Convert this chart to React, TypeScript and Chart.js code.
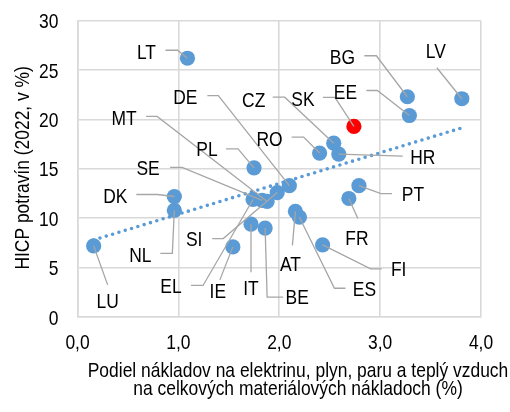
import { useEffect, useRef } from "react";
import { Chart, registerables } from "chart.js";

Chart.register(...registerables);

// ---- data ----
const countries = ["LT", "PL", "BG", "LV", "EE", "SK", "RO", "CZ", "HR", "DE", "SI", "MT", "SE", "EL", "IT", "BE", "AT", "ES", "DK", "NL", "LU", "IE", "PT", "FR", "FI"];
const energyShare = [1.09, 1.75, 3.27, 3.81, 3.29, 2.74, 2.4, 2.54, 2.59, 2.1, 1.98, 1.88, 1.83, 1.74, 1.72, 1.86, 2.16, 2.2, 0.96, 0.96, 0.16, 1.54, 2.79, 2.69, 2.43];
const foodHicp = [26.2, 15.1, 22.3, 22.1, 20.4, 19.3, 16.6, 17.6, 16.5, 13.3, 12.6, 11.7, 11.8, 11.9, 9.4, 9.0, 10.7, 10.1, 12.2, 10.8, 7.2, 7.1, 13.3, 12.0, 7.3];
const highlighted = ["SK"];
const trendX = [0.16, 3.81];
const trendY = [7.8, 19.15];
const xTickValues = [0, 1, 2, 3, 4];
const yTickValues = [0, 5, 10, 15, 20, 25, 30];
const xTitleLines = ["Podiel nákladov na elektrinu, plyn, paru a teplý vzduch", "na celkových materiálových nákladoch (%)"];
const yTitle = "HICP potravín (2022, v %)";

// ---- label layout (pixel offsets from the marker: text centre, leader start, leader elbow) ----
const labelLayout: Record<string, number[]> = {
  LT: [-41, -7, -22, -8, -10, -8],
  DE: [-104, -89, -82, -90, -71, -90],
  CZ: [-80, -44, -61, -46, -49, -46],
  MT: [-143, -84, -121, -85, -110, -85],
  RO: [-50, -15, -28, -16, -16, -16],
  PL: [-47, -19, -28, -19, -16, -19],
  SE: [-114, -32.5, -92, -33, -80, -33],
  BG: [-65, -40, -43, -41, -31, -41],
  LV: [-26, -48, -25, -31, -25, -31],
  SK: [-51, -27.5, -31, -29, -19, -29],
  EE: [-64, -24.5, -43, -25, -32, -25],
  HR: [84, 2, 64, 2, 64, 2],
  DK: [-59, -1, -38, -2, -17, -2],
  NL: [-34, 44, -14, 43, -2, 43],
  LU: [14, 55, 14, 39, 14, 39],
  SI: [-83, 46, -65, 46, -54, 46],
  EL: [-82, 86, -62, 86, -50, 86],
  IE: [-15, 44, -13, 33, -13, 33],
  IT: [0, 63.5, 0, 48, 0, 48],
  BE: [32, 68, 18, 69, 2, 69],
  AT: [-5, 52, -3, 34, -3, 34],
  ES: [65, 71, 46, 71, 35, 71],
  FI: [76, 24, 59, 24, 48, 24],
  FR: [8, 39, 9, 20, 9, 20],
  PT: [54, 7.5, 33, 8, 22, 8],
};

const FONT = "'Liberation Sans', Arial, sans-serif";
const FSIZE = 21;
const SQUEEZE = 0.83; // emulate a condensed face
const CAP = 0.716 * FSIZE;
const BLUE = "#5B9BD5";

function drawText(ctx: any, text: string, x: number, y: number, align: string, rotate = false) {
  ctx.save();
  ctx.translate(x, y);
  if (rotate) ctx.rotate(-Math.PI / 2);
  ctx.scale(SQUEEZE, 1);
  ctx.textAlign = align;
  ctx.textBaseline = "alphabetic";
  ctx.fillText(text, 0, 0);
  ctx.restore();
}

const labelPlugin = {
  id: "labelPlugin",
  afterDatasetsDraw(chart: any) {
    const ctx = chart.ctx;
    const meta = chart.getDatasetMeta(0);
    ctx.save();
    ctx.strokeStyle = "#A6A6A6";
    ctx.lineWidth = 1.3;
    meta.data.forEach((pt: any, i: number) => {
      const lay = labelLayout[countries[i]];
      if (!lay) return;
      ctx.beginPath();
      ctx.moveTo(pt.x + lay[2], pt.y + lay[3]);
      ctx.lineTo(pt.x + lay[4], pt.y + lay[5]);
      ctx.lineTo(pt.x, pt.y);
      ctx.stroke();
    });
    ctx.fillStyle = "#000";
    ctx.font = `${FSIZE}px ${FONT}`;
    meta.data.forEach((pt: any, i: number) => {
      const lay = labelLayout[countries[i]];
      if (!lay) return;
      drawText(ctx, countries[i], pt.x + lay[0], pt.y + lay[1] + CAP / 2, "center");
    });
    ctx.restore();
  },
  afterDraw(chart: any) {
    const ctx = chart.ctx;
    const xs = chart.scales.x;
    const ys = chart.scales.y;
    ctx.save();
    ctx.fillStyle = "#000";
    ctx.font = `${FSIZE}px ${FONT}`;
    xTickValues.forEach((v) => {
      drawText(ctx, v.toFixed(1).replace(".", ","), xs.getPixelForValue(v), 348.5, "center");
    });
    yTickValues.forEach((v) => {
      drawText(ctx, String(v), 58.5, ys.getPixelForValue(v) + CAP / 2, "right");
    });
    drawText(ctx, xTitleLines[0], 298, 377, "center");
    drawText(ctx, xTitleLines[1], 298, 395, "center");
    const ca = chart.chartArea;
    drawText(ctx, yTitle, 28.5, (ca.top + ca.bottom) / 2 - 1, "center", true);
    ctx.restore();
  },
};

export default function App() {
  const ref = useRef<HTMLCanvasElement>(null);
  useEffect(() => {
    if (!ref.current) return;
    const pointData = countries.map((_, i) => ({ x: energyShare[i], y: foodHicp[i] }));
    const colors = countries.map((c) => (highlighted.includes(c) ? "#FF0000" : BLUE));
    const trendData = trendX.map((x, i) => ({ x, y: trendY[i] }));
    const chart = new Chart(ref.current, {
      type: "scatter",
      data: {
        datasets: [
          {
            data: pointData,
            pointRadius: 7.6,
            pointBackgroundColor: colors,
            pointBorderWidth: 0,
            pointBorderColor: colors,
            order: 2,
          },
          {
            type: "line",
            data: trendData,
            borderColor: BLUE,
            borderWidth: 3.6,
            borderDash: [0, 6.6],
            borderCapStyle: "round",
            pointRadius: 0,
            fill: false,
            order: 1,
          } as any,
        ],
      },
      options: {
        responsive: false,
        animation: false,
        layout: { padding: { top: 20.7, right: 29, left: 0, bottom: 0 } },
        plugins: { legend: { display: false }, tooltip: { enabled: false } },
        scales: {
          x: {
            type: "linear",
            min: 0,
            max: 4,
            afterBuildTicks: (s: any) => {
              s.ticks = xTickValues.map((v) => ({ value: v }));
            },
            afterFit: (s: any) => {
              s.height = 95;
            },
            grid: { color: "#D9D9D9", lineWidth: 1.6, drawTicks: false },
            border: { color: "#D9D9D9", width: 1.6 },
            ticks: { display: false },
          },
          y: {
            type: "linear",
            min: 0,
            max: 30,
            afterBuildTicks: (s: any) => {
              s.ticks = yTickValues.map((v) => ({ value: v }));
            },
            afterFit: (s: any) => {
              s.width = 77.5;
            },
            grid: { color: "#D9D9D9", lineWidth: 1.6, drawTicks: false },
            border: { color: "#D9D9D9", width: 1.6 },
            ticks: { display: false },
          },
        },
      },
      plugins: [labelPlugin],
    });
    return () => chart.destroy();
  }, []);
  return (
    <div style={{ position: "fixed", left: 0, top: 0, width: 510, height: 412, background: "#fff" }}>
      <canvas ref={ref} width={510} height={412} />
    </div>
  );
}
